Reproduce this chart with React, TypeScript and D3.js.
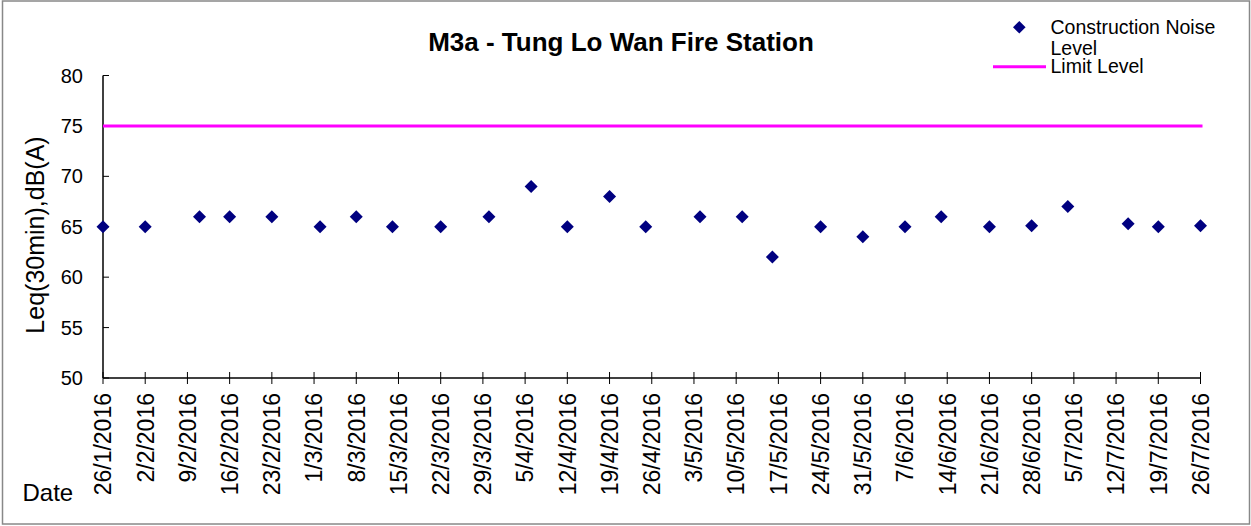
import React from "react";
import * as d3 from "d3";

const pointDates = [
  "26/1/2016", "2/2/2016", "11/2/2016", "16/2/2016", "23/2/2016", "2/3/2016",
  "8/3/2016", "14/3/2016", "22/3/2016", "30/3/2016", "6/4/2016", "12/4/2016",
  "19/4/2016", "25/4/2016", "4/5/2016", "11/5/2016", "16/5/2016", "24/5/2016",
  "31/5/2016", "7/6/2016", "13/6/2016", "21/6/2016", "28/6/2016", "4/7/2016",
  "14/7/2016", "19/7/2016", "26/7/2016",
];
const noiseLevels = [
  65, 65, 66, 66, 66, 65, 66, 65, 65, 66, 69, 65, 68, 65, 66, 66, 62, 65, 64, 65,
  66, 65, 65.1, 67, 65.3, 65, 65.1,
];
const tickLabels = [
  "26/1/2016", "2/2/2016", "9/2/2016", "16/2/2016", "23/2/2016", "1/3/2016",
  "8/3/2016", "15/3/2016", "22/3/2016", "29/3/2016", "5/4/2016", "12/4/2016",
  "19/4/2016", "26/4/2016", "3/5/2016", "10/5/2016", "17/5/2016", "24/5/2016",
  "31/5/2016", "7/6/2016", "14/6/2016", "21/6/2016", "28/6/2016", "5/7/2016",
  "12/7/2016", "19/7/2016", "26/7/2016",
];
const yTicks = [50, 55, 60, 65, 70, 75, 80];
const limitLevel = 75;

const parse = d3.timeParse("%d/%m/%Y");

export default function App() {
  const W = 1251, H = 526;
  const left = 103, right = 1200.5, top = 75.5, bottom = 378;
  const x = d3.scaleTime().domain([parse("26/1/2016")!, parse("26/7/2016")!]).range([left, right]);
  const y = d3.scaleLinear().domain([50, 80]).range([bottom, top]);
  const font = "Arial, 'Liberation Sans', sans-serif";
  const diamond = (cx: number, cy: number, r: number) =>
    `M${cx},${cy - r}L${cx + r},${cy}L${cx},${cy + r}L${cx - r},${cy}Z`;
  const navy = "#000080";
  const magenta = "#FF00FF";

  return (
    <svg width={W} height={H} style={{ position: "absolute", left: 0, top: 0, background: "#fff" }} fontFamily={font}>
      <rect x={2.5} y={1} width={W - 4} height={H - 3} fill="#fff" stroke="#888" strokeWidth={1.5} />
      <text x={621} y={51} textAnchor="middle" fontSize={26} fontWeight="bold" fill="#000">
        M3a - Tung Lo Wan Fire Station
      </text>
      {/* y axis */}
      <line x1={left} x2={left} y1={top} y2={bottom} stroke="#000" strokeWidth={1.5} />
      {yTicks.map((t) => (
        <g key={t}>
          <line x1={left} x2={left + 6} y1={y(t)} y2={y(t)} stroke="#000" strokeWidth={1} />
          <text x={83} y={y(t) + 7} textAnchor="end" fontSize={20} fill="#000">{t}</text>
        </g>
      ))}
      {/* x axis */}
      <line x1={left} x2={right} y1={bottom} y2={bottom} stroke="#000" strokeWidth={1.5} />
      {tickLabels.map((lbl) => {
        const tx = x(parse(lbl)!);
        return (
          <g key={lbl}>
            <line x1={tx} x2={tx} y1={bottom - 6} y2={bottom + 6} stroke="#000" strokeWidth={1} />
            <text
              transform={`translate(${tx + 8.3},393) rotate(-90)`}
              textAnchor="end"
              fontSize={23}
              fill="#000"
            >
              {lbl}
            </text>
          </g>
        );
      })}
      <text transform="translate(43.5,235) rotate(-90)" textAnchor="middle" fontSize={25} fill="#000">
        Leq(30min),dB(A)
      </text>
      <text x={22.5} y={501} fontSize={24} fill="#000">Date</text>
      {/* limit line */}
      <line x1={left} x2={right + 2} y1={y(limitLevel)} y2={y(limitLevel)} stroke={magenta} strokeWidth={3} />
      {/* points */}
      {pointDates.map((d, i) => (
        <path key={d} d={diamond(x(parse(d)!), y(noiseLevels[i]), 6.5)} fill={navy} />
      ))}
      {/* legend */}
      <path d={diamond(1019.3, 27.3, 6.3)} fill={navy} />
      <text x={1050.5} y={33.5} fontSize={19.5} fill="#000">Construction Noise</text>
      <text x={1050.5} y={55} fontSize={19.5} fill="#000">Level</text>
      <line x1={993} x2={1046} y1={66.7} y2={66.7} stroke={magenta} strokeWidth={3} />
      <text x={1050.5} y={73} fontSize={19.5} fill="#000">Limit Level</text>
    </svg>
  );
}
